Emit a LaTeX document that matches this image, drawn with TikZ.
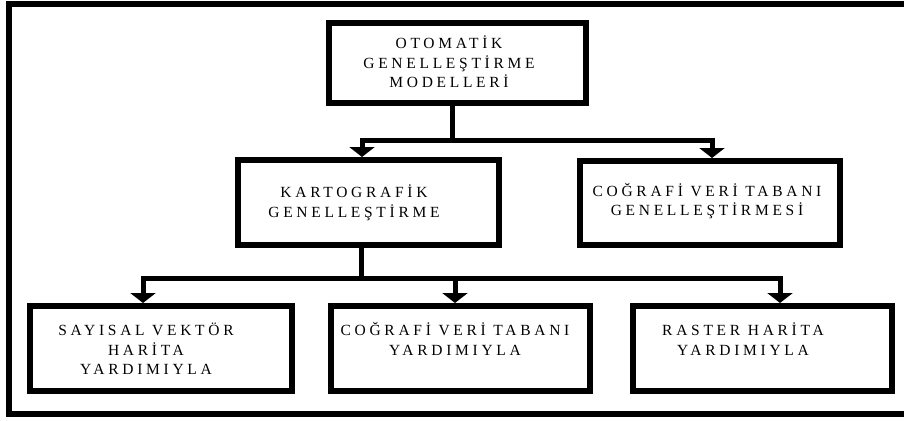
\documentclass[tikz,border=0pt]{standalone}
\usepackage{fontspec}
\setmainfont{Liberation Serif}
\newfontfamily\boxfont[LetterSpace=24]{Liberation Serif}
\usetikzlibrary{arrows.meta}
\tikzset{
  x=1pt, y=-1pt,
  chartbox/.style={draw, line width=6pt, rectangle, inner sep=0pt},
  boxtext/.style={align=center, font=\boxfont\fontsize{15.5}{19.5}\selectfont, inner sep=0pt},
  conn/.style={line width=5pt},
  arr/.style={line width=5pt, -{Triangle[width=25pt,length=10pt]}},
  frame/.style={line width=6pt}
}
\begin{document}
\begin{tikzpicture}
\useasboundingbox[fill=white] (0,0) rectangle (904,420);

% outer frame (open on the right)
\draw[frame] (904,4) -- (9,4) -- (9,414) -- (904,414);

% boxes
\node[chartbox, minimum width=257pt, minimum height=80pt] (top) at (457.5,63) {};
\node[chartbox, minimum width=261pt, minimum height=85pt] (kart) at (368.5,202.5) {};
\node[chartbox, minimum width=260pt, minimum height=84pt] (cvt) at (710,203) {};
\node[chartbox, minimum width=262pt, minimum height=85pt] (vek) at (161,348.5) {};
\node[chartbox, minimum width=259pt, minimum height=85pt] (cvy) at (460.5,348.5) {};
\node[chartbox, minimum width=259pt, minimum height=85pt] (ras) at (762.5,348.5) {};

% labels
\node[boxtext] (ttop) at (449,62) {OTOMATİK\\GENELLEŞTİRME\\MODELLERİ};
\node[boxtext] (tkart) at (354,203) {KARTOGRAFİK\\GENELLEŞTİRME};
\node[boxtext] (tcvt) at (707,201) {COĞRAFİ VERİ TABANI\\GENELLEŞTİRMESİ};
\node[boxtext] (tvek) at (146,349) {SAYISAL VEKTÖR\\HARİTA\\YARDIMIYLA};
\node[boxtext] (tcvy) at (455,339) {COĞRAFİ VERİ TABANI\\YARDIMIYLA};
\node[boxtext] (tras) at (743,339) {RASTER HARİTA\\YARDIMIYLA};

% junctions
\coordinate (j1) at (452,140);
\coordinate (j2) at (361,278);
\coordinate (a1) at (362,0);
\coordinate (a2) at (712,0);
\coordinate (b1) at (143,0);
\coordinate (b2) at (455,0);
\coordinate (b3) at (780,0);

% first level connectors
\draw[conn] (top.south -| j1) -- (j1);
\draw[arr] (j1) -| (kart.north -| a1);
\draw[arr] (j1) -| (cvt.north -| a2);

% second level connectors
\draw[conn] (kart.south -| j2) -- (j2);
\draw[arr] (j2) -| (vek.north -| b1);
\draw[arr] (j2) -| (ras.north -| b3);
\draw[arr] (j2 -| b2) -- (cvy.north -| b2);
\end{tikzpicture}
\end{document}
